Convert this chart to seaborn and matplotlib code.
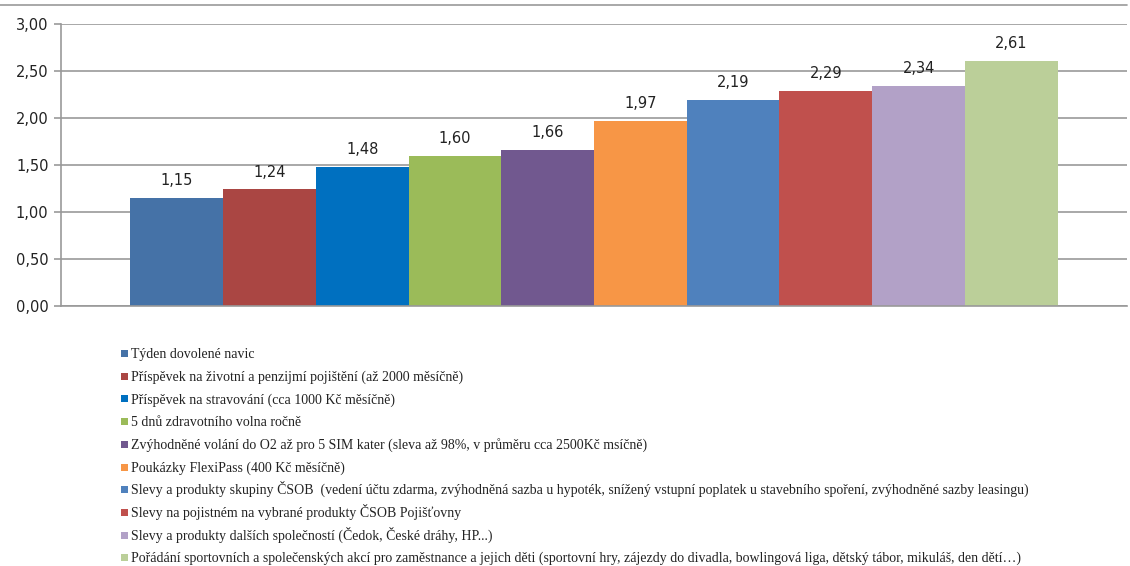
import matplotlib
matplotlib.use("Agg")
import matplotlib.pyplot as plt
import matplotlib.patches as mpatches
import matplotlib.lines as mlines
import seaborn as sns
import pandas as pd

benefits = [
    "Týden dovolené navic",
    "Příspěvek na životní a penzijmí pojištění (až 2000 měsíčně)",
    "Příspěvek na stravování (cca 1000 Kč měsíčně)",
    "5 dnů zdravotního volna ročně",
    "Zvýhodněné volání do O2 až pro 5 SIM kater (sleva až 98%, v průměru cca 2500Kč msíčně)",
    "Poukázky FlexiPass (400 Kč měsíčně)",
    "Slevy a produkty skupiny ČSOB  (vedení účtu zdarma, zvýhodněná sazba u hypoték, snížený vstupní poplatek u stavebního spoření, zvýhodněné sazby leasingu)",
    "Slevy na pojistném na vybrané produkty ČSOB Pojišťovny",
    "Slevy a produkty dalších společností (Čedok, České dráhy, HP...)",
    "Pořádání sportovních a společenských akcí pro zaměstnance a jejich děti (sportovní hry, zájezdy do divadla, bowlingová liga, dětský tábor, mikuláš, den dětí…)",
]
values = [1.15, 1.24, 1.48, 1.60, 1.66, 1.97, 2.19, 2.29, 2.34, 2.61]
colors = ["#4572A7", "#AA4643", "#0070C0", "#9BBB59", "#71588F",
          "#F79646", "#4F81BD", "#C0504D", "#B2A1C7", "#BBCF99"]
yticks = [0.0, 0.5, 1.0, 1.5, 2.0, 2.5, 3.0]

sns.set_theme(style="white")
plt.rcParams["font.family"] = ["DejaVu Sans"]

df = pd.DataFrame({"grp": [""] * len(values), "val": values, "benefit": benefits})

W, H = 1130, 566
fig = plt.figure(figsize=(11.3, 5.66), dpi=100)
ax = fig.add_axes([61 / W, 1 - 306 / H, (1127 - 61) / W, (306 - 24) / H])

sns.barplot(data=df, x="grp", y="val", hue="benefit", hue_order=benefits,
            palette=colors, width=0.87, saturation=1, ax=ax, legend=False,
            edgecolor="none", linewidth=0)

for cont, v in zip(ax.containers, values):
    ax.bar_label(cont, labels=[f"{v:.2f}".replace(".", ",")], padding=7,
                 fontsize=10.5, color="#222222")

ax.set_ylim(0, 3)
ax.set_xlim(-0.5, 0.5)
ax.set_yticks(yticks)
ax.set_yticklabels([f"{t:.2f}".replace(".", ",") for t in yticks], fontsize=10.5, color="#222222")
ax.set_xticks([])
ax.set_xlabel("")
ax.set_ylabel("")
ax.yaxis.grid(True, color="#999999", linewidth=1.2)
ax.set_axisbelow(True)
for s in ["top", "right"]:
    ax.spines[s].set_visible(False)
for s in ["left", "bottom"]:
    ax.spines[s].set_color("#999999")
    ax.spines[s].set_linewidth(1.2)
ax.tick_params(axis="y", which="major", left=True, length=5, width=1.2,
               color="#999999", pad=4)

# legend drawn as evenly spaced entries
y0, dy = 353.5, 22.7
for i, (lab, c) in enumerate(zip(benefits, colors)):
    yc = y0 + i * dy
    fig.add_artist(mpatches.Rectangle((121 / W, 1 - (yc + 3.5) / H), 7 / W, 7 / H,
                                      transform=fig.transFigure, facecolor=c,
                                      edgecolor="none"))
    fig.text(131 / W, 1 - (yc + 4.5) / H, lab, ha="left", va="baseline",
             family="Liberation Serif", fontsize=10, color="#222222")

fig.add_artist(mlines.Line2D([0, 1127 / W], [1 - 5 / H, 1 - 5 / H],
                             transform=fig.transFigure, color="#999999", linewidth=1.2))

fig.savefig("out.png", dpi=100)
